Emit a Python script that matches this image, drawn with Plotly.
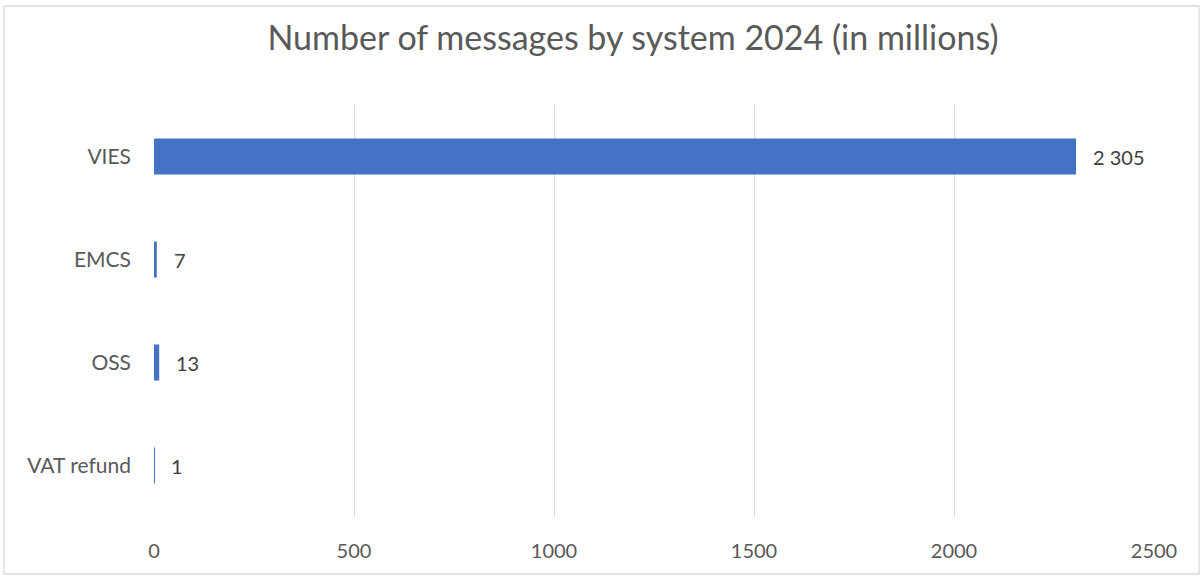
import plotly.graph_objects as go

categories = ["VIES", "EMCS", "OSS", "VAT refund"]
values = [2305, 7, 13, 1]
x_ticks = [0, 500, 1000, 1500, 2000, 2500]
title_text = "Number of messages by system 2024 (in millions)"

FONT = "Lato, 'Open Sans', sans-serif"
W, H = 1203, 576
L, R, T, B = 154, 49, 105, 59
pw, ph = W - L - R, H - T - B

fig = go.Figure()
fig.add_trace(go.Bar(
    y=categories, x=values, orientation="h",
    marker=dict(color="#4472C4", line=dict(width=0)),
    hoverinfo="skip",
))

for c, v in zip(categories, values):
    fig.add_annotation(
        x=v, y=c, xref="x", yref="y",
        text=f"{v:,}".replace(",", " "),
        showarrow=False, xanchor="left", xshift=15,
        font=dict(family=FONT, size=20, color="#404040"),
    )

# chart border
fig.add_shape(type="rect", xref="paper", yref="paper",
              x0=(4 - L) / pw, x1=(1199 - L) / pw,
              y0=(H - B - 574) / ph, y1=(H - B - 6) / ph,
              line=dict(color="#d9d9d9", width=1.3), fillcolor="rgba(0,0,0,0)", layer="below")

fig.update_layout(
    width=W, height=H,
    margin=dict(l=L, r=R, t=T, b=B, autoexpand=False),
    paper_bgcolor="white", plot_bgcolor="white",
    bargap=0.65, showlegend=False,
    title=dict(text=title_text, x=633 / W, xanchor="center",
               y=1 - 38 / H, yanchor="middle", xref="container",
               font=dict(family=FONT, size=34, color="#595959")),
    xaxis=dict(range=[0, 2500], tickvals=x_ticks, showgrid=True,
               gridcolor="#d9d9d9", gridwidth=1.3, zeroline=False,
               showline=False, ticks="", ticklabelstandoff=20,
               tickfont=dict(family=FONT, size=20, color="#595959")),
    yaxis=dict(categoryorder="array", categoryarray=categories[::-1],
               showgrid=False, zeroline=False, showline=False, ticks="",
               ticklabelstandoff=22,
               tickfont=dict(family=FONT, size=21, color="#595959")),
)

fig.write_html("out.html", config={"displayModeBar": False},
               post_script="document.body.style.margin='0';")
